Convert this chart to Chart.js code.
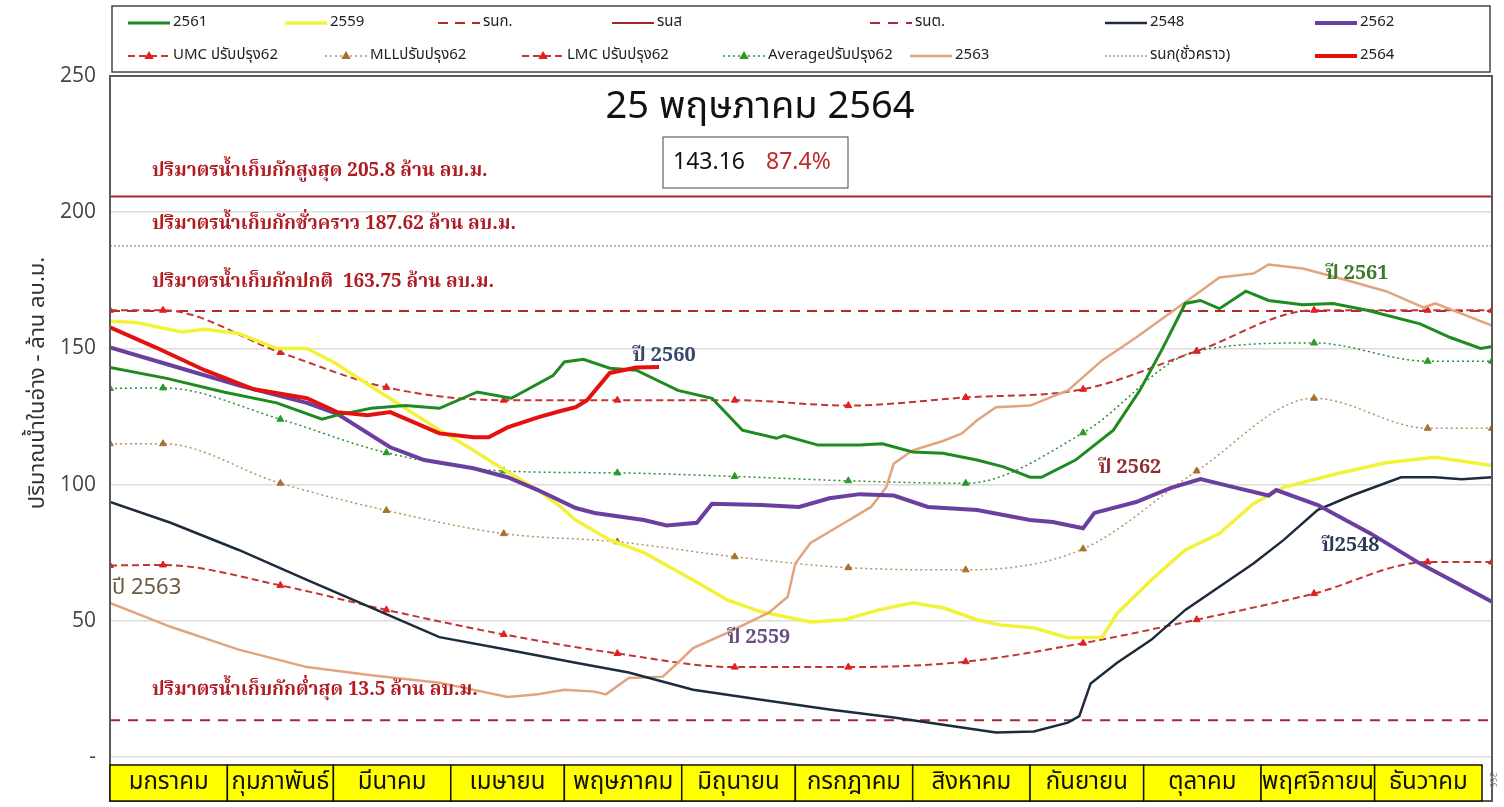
<!DOCTYPE html>
<html>
<head>
<meta charset="utf-8">
<script src="https://cdn.jsdelivr.net/npm/chart.js@4.4.0/dist/chart.umd.min.js"></script>
<style>
  body { margin: 0; background: #fff; }
  canvas { display: block; }
</style>
</head>
<body>
<canvas id="myChart" width="1504" height="807"></canvas>
<script>
// month names (x table) and the day each month starts
const months = ['มกราคม', 'กุมภาพันธ์', 'มีนาคม', 'เมษายน', 'พฤษภาคม', 'มิถุนายน',
  'กรกฎาคม', 'สิงหาคม', 'กันยายน', 'ตุลาคม', 'พฤศจิกายน', 'ธันวาคม'];
const monthStart = [0, 31, 59, 90, 120, 151, 181, 212, 243, 273, 304, 334, 365];

// y ticks
const yTicks = [0, 50, 100, 150, 200, 250];

// rule curves (ปรับปรุง62), one value per mid-month + start/end
const ruleDays = [0, 14, 45, 73, 104, 134, 165, 195, 226, 257, 287, 318, 348, 365];
const umc62 = [164, 164, 148.5, 135.7, 131, 131, 131, 129, 132, 135, 149, 164, 164, 164];
const mll62 = [115, 115, 100.5, 90.5, 82, 79, 73.5, 69.5, 68.7, 76.4, 105, 131.7, 120.7, 120.7];
const lmc62 = [70.3, 70.5, 63, 54, 45, 38, 33, 33, 35, 41.8, 50.4, 60, 71.6, 71.6];
const avg62 = [135.3, 135.5, 124, 111.7, 105, 104.3, 103, 101.4, 100.5, 119, 149, 152, 145.3, 145.3];

// fixed levels
const lvlMax = 205.8;      // รนส
const lvlNormal = 163.75;  // รนก.
const lvlTemp = 187.62;    // รนก(ชั่วคราว)
const lvlMin = 13.5;       // รนต.

// yearly storage [day, value]
const y2561 = [[0,143],[15,139],[30,134],[44,130],[56,124],[60,125.5],[69,128],[78,129],[87,128],[97,134],
  [106,131.7],[117,140],[120,145],[125,146],[132,142.7],[139,142],[150,134.6],[159,131.7],[167,120],[176,117],
  [178,118],[187,114.5],[198,114.5],[204,115],[212,112],[220,111.5],[229,109],[236,106.5],[243,102.7],[246,102.7],
  [255,109],[265,120],[272,134.6],[278,150],[284,166.5],[288,167.6],[293,164.6],[300,171],[306,167.6],[315,166],
  [323,166.5],[332,164],[346,159],[354,154],[362,150],[365,150.7]];
const y2559 = [[0,160],[7,159.5],[19,156],[25,157],[34,155.5],[44,150],[52,150],[59,145],[69,136],[78,128],
  [87,120],[96,112.6],[105,104.6],[113,98],[119,91.8],[123,87],[132,79.7],[141,75],[154,65],[163,57.7],
  [172,53.3],[185,49.6],[194,50.4],[203,54],[212,56.6],[220,54.8],[229,50.4],[235,48.5],[244,47.4],[253,43.8],
  [262,44],[266,52.7],[275,65],[284,76],[293,82],[302,93],[310,99],[324,104],[337,108],[350,110],[365,107]];
const y2548 = [[0,93.6],[16,86],[34,76],[52,65],[69,54.8],[87,44],[105,39.4],[123,34.6],[137,31],[154,24.7],
  [172,21],[190,17.4],[207,14.5],[225,10.8],[234,9],[244,9.4],[253,12.6],[256,15],[259,27],[266,34.6],
  [275,43],[284,54],[293,62.5],[302,71],[310,79.7],[319,90.7],[328,96],[341,102.7],[350,102.7],[357,102],[365,102.7]];
const y2562 = [[0,150.4],[16,143.8],[34,136.4],[52,130],[60,126],[74,113.7],[83,109],[96,106],[105,102.7],[113,98],
  [123,91.4],[128,89.6],[141,87],[147,85],[155,86],[159,93],[172,92.5],[182,91.8],[190,95],[198,96.5],
  [207,96],[216,91.8],[229,90.7],[243,87],[249,86.3],[257,84],[260,89.6],[271,93.6],[280,98.7],[288,102],
  [297,99],[306,96],[308,98],[319,92.5],[333,82],[346,71],[365,57]];
const y2563 = [[0,56.6],[16,47.8],[34,39.4],[52,33],[69,30],[87,27.3],[105,22],[113,23],[120,24.7],[128,24],
  [131,23],[137,29],[146,29.5],[150,34.6],[154,40],[163,45.6],[174,53],[179,58.8],[181,71],[185,78.6],
  [194,86],[201,91.8],[205,99],[207,107.7],[212,112.6],[220,116],[225,118.8],[229,123.6],[234,128.4],[243,129],
  [253,134.6],[262,145.6],[271,154],[280,163],[288,171],[293,176],[302,177.5],[306,180.8],[315,179.3],[324,176],
  [337,171],[347,165],[350,166.5],[365,158.4]];
const y2564 = [[0,157.7],[12,150.4],[25,142],[38,135],[52,131.7],[60,126.6],[68,125.5],[74,126.6],[87,118.8],[96,117.4],
  [100,117.4],[105,121],[113,124.7],[119,127],[123,128.4],[126,131],[132,141],[139,143],[145,143.16]];

const todayValue = 143.16;
const todayPercent = '87.4%';

const thaiSans = "'Noto Sans Thai', Tahoma, 'Leelawadee UI', 'Noto Sans', sans-serif";
const thaiSerif = "'Noto Serif Thai', 'Angsana New', 'Liberation Serif', serif";

document.addEventListener('DOMContentLoaded', function () {
    const ctx = document.getElementById('myChart').getContext('2d');

    const pts = arr => arr.map(p => ({ x: p[0], y: p[1] }));
    const rule = vals => ruleDays.map((d, i) => ({ x: d, y: vals[i] }));
    const flat = v => [{ x: 0, y: v }, { x: 365, y: v }];

    function line(label, data, color, width, extra) {
        return Object.assign({
            label: label,
            data: data,
            borderColor: color,
            backgroundColor: color,
            borderWidth: width,
            pointRadius: 0,
            tension: 0,
            fill: false
        }, extra || {});
    }

    function ruleLine(label, vals, color, pointColor, dash, width) {
        return line(label, rule(vals), color, width, {
            borderDash: dash,
            cubicInterpolationMode: 'monotone',
            pointStyle: 'triangle',
            pointRadius: 4,
            pointBackgroundColor: pointColor,
            pointBorderColor: pointColor,
            pointBorderWidth: 1
        });
    }

    // first dataset ends up on top
    const datasets = [
        line('2564', pts(y2564), '#e3120f', 4),
        line('2561', pts(y2561), '#1f8a1f', 3),
        line('2562', pts(y2562), '#6b3fa0', 4),
        line('2548', pts(y2548), '#1e2b3c', 2.5),
        line('2563', pts(y2563), '#e2a47e', 2.5),
        line('2559', pts(y2559), '#f2f23a', 3.5),
        ruleLine('UMC ปรับปรุง62', umc62, '#c23535', '#e41f1f', [7, 4], 2),
        ruleLine('LMC ปรับปรุง62', lmc62, '#c23535', '#e41f1f', [7, 4], 2),
        ruleLine('MLLปรับปรุง62', mll62, '#b89060', '#a8722e', [2, 3], 1.5),
        ruleLine('Averageปรับปรุง62', avg62, '#2e8b2e', '#2a9a2a', [2, 3], 1.5),
        line('รนก.', flat(lvlNormal), '#b42a2a', 2, { borderDash: [10, 7] }),
        line('รนส', flat(lvlMax), '#9e2630', 2),
        line('รนต.', flat(lvlMin), '#a82a35', 2, { borderDash: [10, 8] }),
        line('รนก(ชั่วคราว)', flat(lvlTemp), '#a0a0a0', 1.5, { borderDash: [2, 2] })
    ];

    const legendRows = [
        [['2561', 128], ['2559', 285], ['รนก.', 438], ['รนส', 612], ['รนต.', 870], ['2548', 1105], ['2562', 1315]],
        [['UMC ปรับปรุง62', 128], ['MLLปรับปรุง62', 325], ['LMC ปรับปรุง62', 522], ['Averageปรับปรุง62', 723],
         ['2563', 910], ['รนก(ชั่วคราว)', 1105], ['2564', 1315]]
    ];

    function triangle(c, x, y, r, color) {
        c.save();
        c.setLineDash([]);
        c.fillStyle = color;
        c.beginPath();
        c.moveTo(x, y - r);
        c.lineTo(x + r * 0.95, y + r * 0.6);
        c.lineTo(x - r * 0.95, y + r * 0.6);
        c.closePath();
        c.fill();
        c.restore();
    }

    const decorPlugin = {
        id: 'decor',
        beforeDraw(chart) {
            const c = chart.ctx;
            c.save();
            c.fillStyle = '#fff';
            c.fillRect(0, 0, chart.width, chart.height);
            c.restore();
        },
        afterDraw(chart) {
            const c = chart.ctx;
            const xs = chart.scales.x;
            const ys = chart.scales.y;
            const area = chart.chartArea;
            c.save();

            // plot frame
            c.strokeStyle = '#5a5a5a';
            c.lineWidth = 2;
            c.strokeRect(area.left, area.top, area.right - area.left, area.bottom - area.top + 44);

            // month table
            const tTop = area.bottom + 8, tH = 36;
            months.forEach((m, i) => {
                const x0 = xs.getPixelForValue(monthStart[i]);
                const x1 = xs.getPixelForValue(monthStart[i + 1]) - 10 * (i === 11 ? 1 : 0);
                c.fillStyle = '#ffff00';
                c.fillRect(x0, tTop, x1 - x0, tH);
                c.strokeStyle = '#111';
                c.lineWidth = 1.5;
                c.strokeRect(x0, tTop, x1 - x0, tH);
                c.fillStyle = '#111';
                c.font = '24px ' + thaiSans;
                c.textAlign = 'center';
                c.textBaseline = 'middle';
                c.fillText(m, (x0 + x1) / 2, tTop + tH / 2 + 1);
            });

            // tiny rotated count
            c.save();
            c.translate(1492, 780);
            c.rotate(Math.PI / 2);
            c.fillStyle = '#888';
            c.font = '9px ' + thaiSans;
            c.textAlign = 'center';
            c.fillText('366', 0, 0);
            c.restore();

            // y axis title
            c.save();
            c.translate(40, 383);
            c.rotate(-Math.PI / 2);
            c.fillStyle = '#333';
            c.font = '22px ' + thaiSans;
            c.textAlign = 'center';
            c.textBaseline = 'middle';
            c.fillText('ปริมาณน้ำในอ่าง - ล้าน ลบ.ม.', 0, 0);
            c.restore();

            // legend box
            c.fillStyle = '#fff';
            c.fillRect(112, 6, 1378, 66);
            c.strokeStyle = '#444';
            c.lineWidth = 1.5;
            c.strokeRect(112, 6, 1378, 66);
            legendRows.forEach((row, r) => {
                const y = r === 0 ? 23 : 56;
                row.forEach(([label, x]) => {
                    const ds = chart.data.datasets.find(d => d.label === label);
                    c.save();
                    c.strokeStyle = ds.borderColor;
                    c.lineWidth = Math.max(ds.borderWidth, 1.5);
                    c.setLineDash(ds.borderDash || []);
                    c.beginPath();
                    c.moveTo(x, y);
                    c.lineTo(x + 42, y);
                    c.stroke();
                    if (ds.pointRadius > 0) triangle(c, x + 21, y, 5, ds.pointBackgroundColor);
                    c.fillStyle = '#222';
                    c.font = '15px ' + thaiSans;
                    c.textAlign = 'left';
                    c.textBaseline = 'middle';
                    c.fillText(ds.label, x + 45, y);
                    c.restore();
                });
            });

            // title and today box
            c.fillStyle = '#111';
            c.font = '38px ' + thaiSans;
            c.textAlign = 'center';
            c.textBaseline = 'middle';
            c.fillText('25 พฤษภาคม 2564', 760, 110);

            c.fillStyle = '#fff';
            c.fillRect(663, 137, 185, 51);
            c.strokeStyle = '#444';
            c.lineWidth = 1;
            c.strokeRect(663, 137, 185, 51);
            c.font = '23px ' + thaiSans;
            c.textAlign = 'left';
            c.fillStyle = '#111';
            c.fillText(todayValue.toFixed(2), 673, 164);
            c.fillStyle = '#c0282c';
            c.fillText(todayPercent, 766, 164);

            // level notes
            c.fillStyle = '#b01c22';
            c.font = 'bold 19px ' + thaiSerif;
            const note = (text, v) => c.fillText(text, 152, ys.getPixelForValue(v));
            note('ปริมาตรน้ำเก็บกักสูงสุด 205.8 ล้าน ลบ.ม.', 214.5);
            note('ปริมาตรน้ำเก็บกักชั่วคราว 187.62 ล้าน ลบ.ม.', 195);
            note('ปริมาตรน้ำเก็บกักปกติ  163.75 ล้าน ลบ.ม.', 173.8);
            note('ปริมาตรน้ำเก็บกักต่ำสุด 13.5 ล้าน ลบ.ม.', 24);

            // year labels
            const tag = (text, d, v, color, font) => {
                c.fillStyle = color;
                c.font = font;
                c.fillText(text, xs.getPixelForValue(d), ys.getPixelForValue(v));
            };
            const serifTag = 'bold 20px ' + thaiSerif;
            tag('ปี 2560', 138, 146.7, '#34466a', serifTag);
            tag('ปี 2563', 0.5, 61.4, '#6e5a40', '22px ' + thaiSans);
            tag('ปี 2559', 163, 43, '#6a4a80', serifTag);
            tag('ปี 2562', 261, 105.3, '#8e2c30', serifTag);
            tag('ปี2548', 320, 76.7, '#2c3a56', serifTag);
            tag('ปี 2561', 321, 176.7, '#3c7a2a', serifTag);

            c.restore();
        }
    };

    new Chart(ctx, {
        type: 'line',
        data: { datasets: datasets },
        options: {
            responsive: false,
            animation: false,
            events: [],
            layout: { padding: { top: 76, right: 12, bottom: 50, left: 0 } },
            plugins: {
                legend: { display: false },
                tooltip: { enabled: false },
                title: { display: false }
            },
            scales: {
                x: {
                    type: 'linear',
                    min: 0,
                    max: 365,
                    display: false
                },
                y: {
                    min: 0,
                    max: 250,
                    afterFit(scale) { scale.width = 110; },
                    afterBuildTicks(scale) { scale.ticks = yTicks.map(v => ({ value: v })); },
                    ticks: {
                        padding: 14,
                        color: '#444',
                        font: { size: 21, family: "'Open Sans', 'Noto Sans', sans-serif" },
                        callback: v => v === 0 ? '-' : v
                    },
                    grid: { color: '#dcdcdc', lineWidth: 1.5, drawTicks: false },
                    border: { display: true, color: '#5a5a5a', width: 2 }
                }
            }
        },
        plugins: [decorPlugin]
    });
});
</script>
</body>
</html>
